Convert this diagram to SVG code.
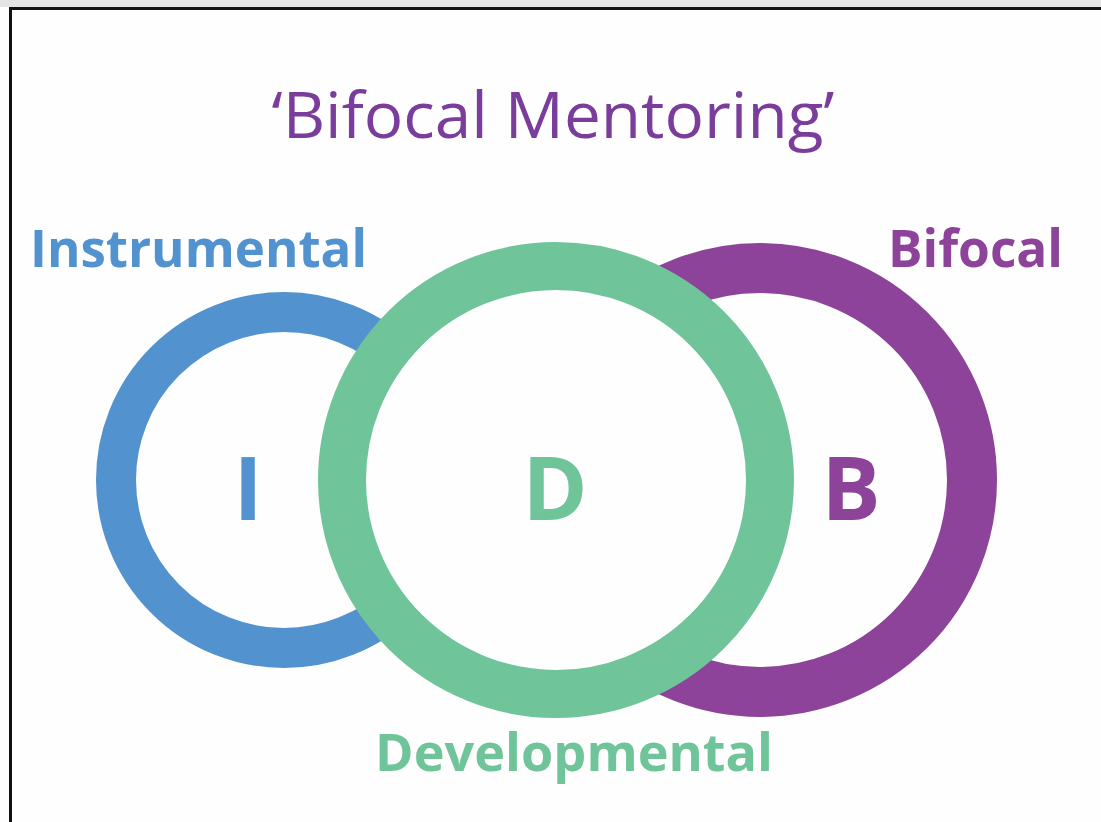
<svg xmlns="http://www.w3.org/2000/svg" width="1101" height="822" viewBox="0 0 1101 822">
<style>
.ring{fill:none}
.lbl{font-family:"Open Sans","Noto Sans","Liberation Sans",sans-serif;font-weight:bold}
.ttl{font-family:"Open Sans","Noto Sans","Liberation Sans",sans-serif;font-weight:normal}
</style>
<rect x="0" y="0" width="1101" height="822" fill="#fefefe"/>
<rect x="0" y="0" width="1101" height="7" fill="#e4e4e4"/>
<g id="frame" fill="none" stroke="#111" stroke-width="3">
<path d="M10.5,822 V8.5 H1101"/>
</g>
<text id="title" class="ttl" x="553" y="138" font-size="64" fill="#7a3d9c" text-anchor="middle" textLength="563" lengthAdjust="spacingAndGlyphs">‘Bifocal Mentoring’</text>
<g id="node-instrumental">
<circle class="ring" cx="284" cy="480" r="168" stroke="#5192cf" stroke-width="40"/>
<text class="lbl" x="30" y="267" font-size="52" fill="#5192cf" textLength="337" lengthAdjust="spacingAndGlyphs">Instrumental</text>
<text class="lbl" x="248" y="520" font-size="88" fill="#5192cf" text-anchor="middle">I</text>
</g>
<g id="node-bifocal">
<circle class="ring" cx="760" cy="480" r="212" stroke="#8c4399" stroke-width="50"/>
<text class="lbl" x="888" y="267" font-size="52" fill="#8c4399" textLength="175" lengthAdjust="spacingAndGlyphs">Bifocal</text>
<text class="lbl" x="851" y="520" font-size="88" fill="#8c4399" text-anchor="middle">B</text>
</g>
<g id="node-developmental">
<circle cx="556" cy="480" r="214" fill="#fefefe" stroke="#70c49a" stroke-width="48"/>
<text class="lbl" x="375" y="771" font-size="52" fill="#70c49a" textLength="398" lengthAdjust="spacingAndGlyphs">Developmental</text>
<text class="lbl" x="555" y="520" font-size="88" fill="#70c49a" text-anchor="middle">D</text>
</g>
<g id="connectors"></g>
</svg>
